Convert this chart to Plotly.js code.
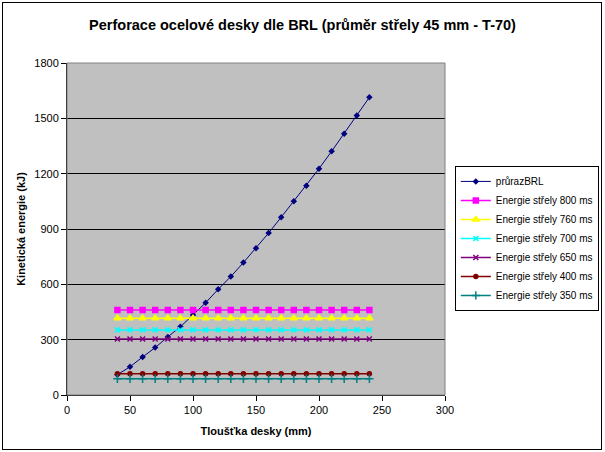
<!DOCTYPE html>
<html><head><meta charset="utf-8">
<script src="https://cdn.plot.ly/plotly-3.0.1.min.js"></script>
<style>
body{margin:0;padding:0;background:#fff;}
#wrap{position:relative;width:605px;height:452px;}
#chart{position:absolute;left:0;top:0;width:605px;height:452px;}
#frame{position:absolute;left:2px;top:2px;width:598px;height:446px;border:1px solid #000;pointer-events:none;}
</style></head>
<body>
<div id="wrap"><div id="chart"></div><div id="frame"></div></div>
<script>
const thickness = [40,50,60,70,80,90,100,110,120,130,140,150,160,170,180,190,200,210,220,230,240];
const brl = [110,153,206,257,315,370,434,500,573,642,718,796,878,964,1050,1135,1227,1321,1417,1515,1614];
const seriesNames = ["Energie střely 800 ms","Energie střely 760 ms","Energie střely 700 ms","Energie střely 650 ms","Energie střely 400 ms","Energie střely 350 ms"];
const seriesLevels = [461,416,353,304,115,88];
const seriesColors = ["#FF00FF","#FFFF00","#00FFFF","#800080","#800000","#008080"];
const seriesSymbols = ["square","triangle-up","x-thin-open","x-thin-open","circle","cross-thin-open"];
const seriesSizes = [5,6,5,5,4,6];

const traces = [{
  x: thickness, y: brl, type:'scatter', mode:'lines+markers', name:'průrazBRL',
  line:{color:'#000080', width:1}, marker:{symbol:'diamond', size:5, color:'#000080'}
}];
seriesNames.forEach((n,i)=>{
  traces.push({
    x: thickness, y: thickness.map(()=>seriesLevels[i]), type:'scatter', mode:'lines+markers', name:n,
    line:{color:seriesColors[i], width:1.5},
    marker:{symbol:seriesSymbols[i], size:seriesSizes[i], color:seriesColors[i], line:{color:seriesColors[i], width:1.5}}
  });
});

const layout = {
  width:605, height:452,
  margin:{l:67, r:160, t:63, b:57, autoexpand:false},
  paper_bgcolor:'rgba(0,0,0,0)', plot_bgcolor:'#C0C0C0',
  font:{family:'Liberation Sans, Arial, sans-serif', size:11, color:'#000'},
  title:{text:'<b>Perforace ocelové desky dle BRL (průměr střely 45 mm - T-70)</b>', x:0.5, xanchor:'center', y:0.945, yanchor:'middle', font:{size:14.5, color:'#000'}},
  xaxis:{range:[0,300], dtick:50, tick0:0, showgrid:false, zeroline:false, showline:true, linecolor:'#000', linewidth:1,
    ticks:'outside', ticklen:5, tickcolor:'#000', mirror:false,
    title:{text:'<b>Tloušťka desky (mm)</b>', font:{size:11}, standoff:12}},
  yaxis:{range:[0,1800], dtick:300, tick0:0, showgrid:true, gridcolor:'#000', gridwidth:1, zeroline:false, showline:true, linecolor:'#000', linewidth:1,
    ticks:'outside', ticklen:5, tickcolor:'#000',
    title:{text:'<b>Kinetická energie (kJ)</b>', font:{size:11}, standoff:6}},
  legend:{x:1.026, xanchor:'left', y:0.69, yanchor:'top', bgcolor:'#fff', bordercolor:'#000', borderwidth:1, font:{size:10}, tracegroupgap:0},
  showlegend:true,
  shapes:[{type:'rect', xref:'paper', yref:'paper', x0:0, x1:1, y0:0, y1:1, line:{color:'#808080', width:1}, fillcolor:'rgba(0,0,0,0)'}]
};
Plotly.newPlot('chart', traces, layout, {displayModeBar:false, staticPlot:true});
</script>
</body></html>
